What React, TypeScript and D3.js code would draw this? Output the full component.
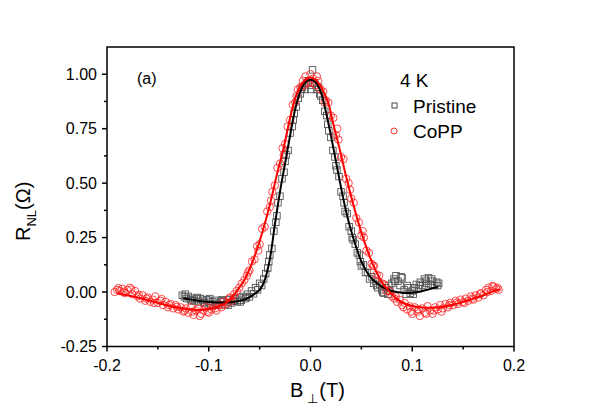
import React from "react";
import * as d3 from "d3";

const W = 598;
const H = 417;

// Pristine data: [B (T), R_NL (Ω)]
const pristinePoints: [number, number][] = [
  [-0.126, -0.015], [-0.124, -0.022], [-0.122, -0.03], [-0.12, -0.02], [-0.118, -0.035], [-0.116, -0.028],
  [-0.114, -0.04], [-0.112, -0.032], [-0.11, -0.045], [-0.108, -0.03], [-0.106, -0.038], [-0.104, -0.048],
  [-0.102, -0.035], [-0.1, -0.042], [-0.098, -0.055], [-0.096, -0.045], [-0.094, -0.038], [-0.092, -0.052],
  [-0.09, -0.06], [-0.088, -0.045], [-0.086, -0.04], [-0.084, -0.058], [-0.082, -0.048], [-0.08, -0.035],
  [-0.078, -0.05], [-0.076, -0.042], [-0.074, -0.03], [-0.072, -0.045], [-0.07, -0.025], [-0.068, -0.038],
  [-0.066, -0.02], [-0.064, -0.03], [-0.062, -0.01], [-0.06, -0.022], [-0.058, 0.005], [-0.056, -0.008],
  [-0.054, 0.02], [-0.052, 0.01], [-0.05, 0.04], [-0.048, 0.03], [-0.046, 0.06], [-0.044, 0.085],
  [-0.042, 0.11], [-0.04, 0.17], [-0.038, 0.2], [-0.036, 0.28], [-0.034, 0.32], [-0.032, 0.41],
  [-0.03, 0.44], [-0.028, 0.52], [-0.026, 0.55], [-0.024, 0.63], [-0.022, 0.65], [-0.02, 0.73],
  [-0.018, 0.76], [-0.016, 0.82], [-0.014, 0.85], [-0.012, 0.89], [-0.01, 0.91], [-0.008, 0.94],
  [-0.006, 0.93], [-0.004, 0.96], [-0.002, 0.97], [0.0, 0.95], [0.002, 1.02], [0.004, 0.96],
  [0.006, 0.93], [0.008, 0.94], [0.01, 0.9], [0.012, 0.88], [0.014, 0.83], [0.016, 0.81],
  [0.018, 0.74], [0.02, 0.71], [0.022, 0.65], [0.024, 0.62], [0.026, 0.56], [0.028, 0.53],
  [0.03, 0.46], [0.032, 0.44], [0.034, 0.37], [0.036, 0.36], [0.038, 0.3], [0.04, 0.28],
  [0.042, 0.24], [0.044, 0.22], [0.046, 0.18], [0.048, 0.17], [0.05, 0.12], [0.052, 0.125],
  [0.054, 0.09], [0.056, 0.09], [0.058, 0.06], [0.06, 0.07], [0.062, 0.04], [0.064, 0.05],
  [0.066, 0.02], [0.068, 0.035], [0.07, 0.01], [0.072, -0.005], [0.074, 0.02], [0.076, -0.01],
  [0.078, 0.005], [0.08, 0.04], [0.082, 0.06], [0.084, 0.075], [0.086, 0.05], [0.088, 0.03],
  [0.09, 0.065], [0.092, 0.01], [0.094, -0.01], [0.096, 0.02], [0.098, -0.005], [0.1, 0.005],
  [0.102, 0.02], [0.104, 0.035], [0.106, 0.015], [0.108, 0.045], [0.11, 0.03], [0.112, 0.06],
  [0.114, 0.04], [0.116, 0.065], [0.118, 0.035], [0.12, 0.05], [0.122, 0.03], [0.124, 0.045],
  [0.126, 0.04],
  [-0.123, -0.01], [-0.117, -0.04], [-0.111, -0.025], [-0.105, -0.05], [-0.099, -0.03], [-0.093, -0.06],
  [-0.087, -0.035], [-0.081, -0.06], [-0.075, -0.038], [-0.069, -0.045], [-0.063, -0.025],
  [-0.041, 0.14], [-0.033, 0.35], [-0.025, 0.6], [-0.017, 0.79], [-0.009, 0.93], [0.001, 0.93],
  [0.009, 0.91], [0.017, 0.77], [0.025, 0.58], [0.033, 0.41], [0.041, 0.25], [0.049, 0.14],
  [0.065, 0.03], [0.071, 0.0], [0.077, 0.03], [0.083, 0.05], [0.089, 0.07], [0.095, 0.03],
  [0.101, -0.01], [0.107, 0.03], [0.113, 0.05], [0.119, 0.06], [0.125, 0.03],
];

// CoPP data: [B (T), R_NL (Ω)]
const coppPoints: [number, number][] = [
  [-0.1925, 0.0], [-0.19, 0.01], [-0.1875, 0.005], [-0.185, 0.015], [-0.1825, -0.005], [-0.18, 0.01],
  [-0.1775, 0.02], [-0.175, -0.01], [-0.1725, 0.005], [-0.17, -0.02], [-0.1675, -0.03], [-0.165, -0.015],
  [-0.1625, -0.04], [-0.16, -0.025], [-0.1575, -0.045], [-0.155, -0.035], [-0.1525, -0.02], [-0.15, -0.05],
  [-0.1475, -0.04], [-0.145, -0.06], [-0.1425, -0.045], [-0.14, -0.07], [-0.1375, -0.055], [-0.135, -0.075],
  [-0.1325, -0.06], [-0.13, -0.08], [-0.1275, -0.07], [-0.125, -0.09], [-0.1225, -0.075], [-0.12, -0.095],
  [-0.1175, -0.07], [-0.115, -0.105], [-0.1125, -0.085], [-0.11, -0.075], [-0.1075, -0.1], [-0.105, -0.085],
  [-0.1025, -0.07], [-0.1, -0.095], [-0.0975, -0.08], [-0.095, -0.065], [-0.0925, -0.085], [-0.09, -0.06],
  [-0.0875, -0.07], [-0.085, -0.045], [-0.0825, -0.055], [-0.08, -0.03], [-0.0775, -0.04], [-0.075, -0.01],
  [-0.0725, 0.005], [-0.07, 0.02], [-0.0675, 0.04], [-0.065, 0.055], [-0.0625, 0.075], [-0.06, 0.1],
  [-0.0575, 0.14], [-0.055, 0.15], [-0.0525, 0.21], [-0.05, 0.22], [-0.0475, 0.29], [-0.045, 0.3],
  [-0.0425, 0.37], [-0.04, 0.39], [-0.0375, 0.46], [-0.035, 0.49], [-0.0325, 0.57], [-0.03, 0.59],
  [-0.0275, 0.66], [-0.025, 0.68], [-0.0225, 0.76], [-0.02, 0.79], [-0.0175, 0.86], [-0.015, 0.87],
  [-0.0125, 0.93], [-0.01, 0.94], [-0.0075, 0.97], [-0.005, 0.99], [-0.0025, 0.96], [0.0, 1.0],
  [0.0025, 0.98], [0.005, 0.95], [0.0075, 0.97], [0.01, 0.93], [0.0125, 0.92], [0.015, 0.88],
  [0.0175, 0.87], [0.02, 0.81], [0.0225, 0.8], [0.025, 0.72], [0.0275, 0.7], [0.03, 0.62],
  [0.0325, 0.61], [0.035, 0.52], [0.0375, 0.5], [0.04, 0.43], [0.0425, 0.41], [0.045, 0.34],
  [0.0475, 0.32], [0.05, 0.26], [0.0525, 0.25], [0.055, 0.19], [0.0575, 0.18], [0.06, 0.13],
  [0.0625, 0.12], [0.065, 0.08], [0.0675, 0.075], [0.07, 0.04], [0.0725, 0.035], [0.075, 0.005],
  [0.0775, 0.005], [0.08, -0.02], [0.0825, -0.03], [0.085, -0.045], [0.0875, -0.035], [0.09, -0.06],
  [0.0925, -0.05], [0.095, -0.08], [0.0975, -0.065], [0.1, -0.1], [0.1025, -0.07], [0.105, -0.09],
  [0.1075, -0.11], [0.11, -0.075], [0.1125, -0.095], [0.115, -0.065], [0.1175, -0.085], [0.12, -0.1],
  [0.1225, -0.07], [0.125, -0.08], [0.1275, -0.06], [0.13, -0.075], [0.1325, -0.055], [0.135, -0.07],
  [0.1375, -0.05], [0.14, -0.06], [0.1425, -0.04], [0.145, -0.055], [0.1475, -0.035], [0.15, -0.045],
  [0.1525, -0.03], [0.155, -0.04], [0.1575, -0.02], [0.16, -0.035], [0.1625, -0.015], [0.165, -0.025],
  [0.1675, -0.005], [0.17, -0.015], [0.1725, 0.01], [0.175, 0.02], [0.1775, 0.005], [0.18, 0.025],
  [0.1825, 0.015], [0.185, 0.01],
  [-0.1888, 0.018], [-0.1838, 0.0], [-0.1763, 0.012], [-0.1688, -0.012], [-0.1613, -0.03], [-0.1538, -0.05],
  [-0.1463, -0.032], [-0.1388, -0.06], [-0.1313, -0.068], [-0.1238, -0.085], [-0.1163, -0.09], [-0.1088, -0.11],
  [-0.1013, -0.09], [-0.0938, -0.075], [-0.0863, -0.06], [-0.0788, -0.025],
  [-0.0613, 0.09], [-0.0513, 0.19], [-0.0388, 0.42], [-0.0263, 0.63], [-0.0138, 0.9], [-0.0063, 0.95],
  [0.0013, 0.96], [0.0063, 0.99], [0.0138, 0.87], [0.0263, 0.75], [0.0388, 0.47], [0.0513, 0.28], [0.0613, 0.12],
  [0.0838, -0.02], [0.0913, -0.07], [0.0988, -0.09], [0.1063, -0.08], [0.1138, -0.1], [0.1213, -0.085],
  [0.1288, -0.09], [0.1363, -0.06], [0.1438, -0.048], [0.1513, -0.05], [0.1588, -0.03], [0.1663, -0.01],
  [0.1738, 0.0], [0.1788, 0.028], [0.1838, 0.02],
];

// Fit curves
const pristineFit: [number, number][] = [
  [-0.125, -0.028], [-0.115, -0.036], [-0.105, -0.043], [-0.095, -0.047], [-0.085, -0.048],
  [-0.075, -0.045], [-0.065, -0.035], [-0.057, -0.015], [-0.05, 0.01], [-0.045, 0.055],
  [-0.04, 0.15], [-0.035, 0.31], [-0.03, 0.46], [-0.025, 0.59], [-0.02, 0.72], [-0.015, 0.84],
  [-0.01, 0.92], [-0.005, 0.963], [0.0, 0.975], [0.005, 0.963], [0.01, 0.92], [0.015, 0.83],
  [0.02, 0.72], [0.025, 0.6], [0.03, 0.48], [0.035, 0.37], [0.04, 0.28], [0.045, 0.205],
  [0.05, 0.14], [0.055, 0.095], [0.06, 0.062], [0.07, 0.025], [0.08, 0.005], [0.09, -0.003],
  [0.1, -0.003], [0.11, 0.005], [0.12, 0.017], [0.125, 0.023],
];

const coppFit: [number, number][] = [
  [-0.19, -0.005], [-0.18, -0.015], [-0.17, -0.025], [-0.16, -0.037], [-0.15, -0.05],
  [-0.14, -0.062], [-0.13, -0.072], [-0.12, -0.079], [-0.11, -0.082], [-0.1, -0.078],
  [-0.09, -0.066], [-0.08, -0.04], [-0.075, -0.012], [-0.07, 0.02], [-0.065, 0.055],
  [-0.059, 0.115], [-0.053, 0.19], [-0.047, 0.28], [-0.04, 0.4], [-0.033, 0.54],
  [-0.027, 0.65], [-0.02, 0.8], [-0.015, 0.89], [-0.01, 0.945], [-0.005, 0.975], [0.0, 0.985],
  [0.005, 0.975], [0.01, 0.945], [0.017, 0.875], [0.022, 0.78], [0.029, 0.65], [0.035, 0.53],
  [0.041, 0.42], [0.047, 0.32], [0.052, 0.245], [0.058, 0.165], [0.065, 0.09], [0.072, 0.032],
  [0.08, -0.01], [0.085, -0.033], [0.09, -0.048], [0.1, -0.064], [0.11, -0.071], [0.12, -0.072],
  [0.13, -0.067], [0.14, -0.058], [0.15, -0.045], [0.16, -0.03], [0.17, -0.015], [0.18, 0.004],
  [0.186, 0.013],
];

const xTicks = [-0.2, -0.1, 0.0, 0.1, 0.2];
const xTickLabels = ["-0.2", "-0.1", "0.0", "0.1", "0.2"];
const xMinorTicks = [-0.15, -0.05, 0.05, 0.15];
const yTicks = [-0.25, 0.0, 0.25, 0.5, 0.75, 1.0];
const yTickLabels = ["-0.25", "0.00", "0.25", "0.50", "0.75", "1.00"];
const yMinorTicks = [-0.125, 0.125, 0.375, 0.625, 0.875];

const FONT = "Liberation Sans, Arial, sans-serif";

export default function App() {
  const left = 107, right = 514, top = 47, bottom = 346.5;
  const x = d3.scaleLinear().domain([-0.2, 0.2]).range([left, right]);
  const y = d3.scaleLinear().domain([-0.25, 1.125]).range([bottom, top]);
  const line = d3
    .line<[number, number]>()
    .x((d) => x(d[0]))
    .y((d) => y(d[1]))
    .curve(d3.curveCatmullRom.alpha(0.5));

  return (
    <svg
      width={W}
      height={H}
      style={{ position: "absolute", left: 0, top: 0, background: "#fff" }}
      fontFamily={FONT}
    >
      <rect x={0} y={0} width={W} height={H} fill="#fff" />
      {/* data */}
      <g>
        {pristinePoints.map((d, i) => (
          <rect
            key={"p" + i}
            x={x(d[0]) - 3.25}
            y={y(d[1]) - 3.25}
            width={6.5}
            height={6.5}
            fill="none"
            stroke="#555"
            strokeWidth={0.9}
          />
        ))}
      </g>
      <g>
        {coppPoints.map((d, i) => (
          <circle
            key={"c" + i}
            cx={x(d[0])}
            cy={y(d[1])}
            r={3.7}
            fill="none"
            stroke="#ff2020"
            strokeWidth={0.8}
          />
        ))}
      </g>
      <path d={line(pristineFit) || ""} fill="none" stroke="#000" strokeWidth={2} />
      <path d={line(coppFit) || ""} fill="none" stroke="#ff0000" strokeWidth={2} />

      {/* frame */}
      <rect x={left} y={top} width={right - left} height={bottom - top} fill="none" stroke="#000" strokeWidth={1.5} />

      {/* x axis ticks */}
      {xTicks.map((t, i) => (
        <g key={"xt" + i}>
          <line x1={x(t)} x2={x(t)} y1={bottom} y2={bottom + 5} stroke="#000" strokeWidth={1.5} />
          <text x={x(t)} y={371} textAnchor="middle" fontSize={16}>
            {xTickLabels[i]}
          </text>
        </g>
      ))}
      {xMinorTicks.map((t, i) => (
        <line key={"xm" + i} x1={x(t)} x2={x(t)} y1={bottom} y2={bottom + 3} stroke="#000" strokeWidth={1.5} />
      ))}

      {/* y axis ticks */}
      {yTicks.map((t, i) => (
        <g key={"yt" + i}>
          <line x1={left - 5} x2={left} y1={y(t)} y2={y(t)} stroke="#000" strokeWidth={1.5} />
          <text x={97} y={y(t) + 5.5} textAnchor="end" fontSize={16}>
            {yTickLabels[i]}
          </text>
        </g>
      ))}
      {yMinorTicks.map((t, i) => (
        <line key={"ym" + i} x1={left - 3} x2={left} y1={y(t)} y2={y(t)} stroke="#000" strokeWidth={1.5} />
      ))}

      {/* axis titles */}
      <text x={290} y={397} fontSize={20}>
        B
        <tspan dx={4} dy={6} fontSize={13}>⊥</tspan>
        <tspan dx={1} dy={-6} fontSize={20}>(T)</tspan>
      </text>
      <text transform="translate(30,241) rotate(-90)" fontSize={20}>
        R
        <tspan dy={6} fontSize={13}>NL</tspan>
        <tspan dy={-6} fontSize={20}>(Ω)</tspan>
      </text>

      {/* annotations */}
      <text x={137} y={84} fontSize={16}>(a)</text>
      <text x={400} y={87} fontSize={19}>4 K</text>
      <rect x={392} y={103} width={5} height={5} fill="none" stroke="#333" strokeWidth={0.9} />
      <text x={413} y={113} fontSize={19}>Pristine</text>
      <circle cx={394} cy={131} r={3} fill="none" stroke="#ff2020" strokeWidth={0.9} />
      <text x={413} y={138} fontSize={19}>CoPP</text>
    </svg>
  );
}
